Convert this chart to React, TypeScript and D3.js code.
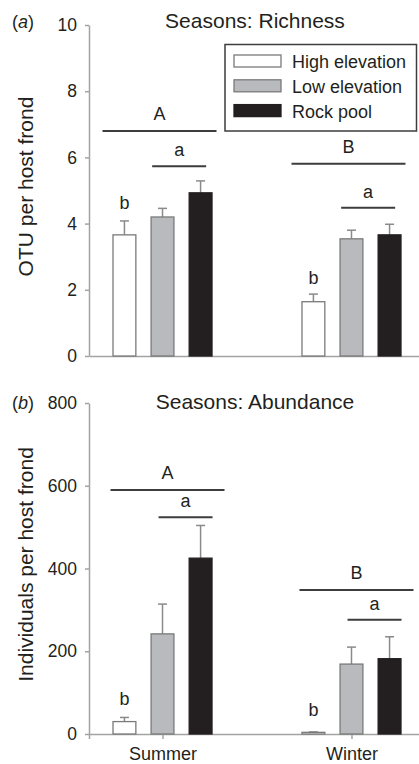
import * as d3 from "d3";
import { useRef, useEffect } from "react";

const seasons = ["Summer", "Winter"];
const habitats = ["High elevation", "Low elevation", "Rock pool"];
const habitatFills = ["#ffffff", "#b9babd", "#231f20"];

// means and standard errors, [season][habitat]
const richnessMean = [[3.66, 4.2, 4.93], [1.64, 3.54, 3.66]];
const richnessErr = [[0.42, 0.26, 0.36], [0.23, 0.26, 0.32]];
const richnessTicks = [0, 2, 4, 6, 8, 10];

const abundanceMean = [[30, 242, 425], [4, 169, 182]];
const abundanceErr = [[10, 72, 79], [1, 41, 53]];
const abundanceTicks = [0, 200, 400, 600, 800];

// significance letters: whole season, low+rock pair, high elevation alone
const richnessSeasonSig = [["A", 6.8], ["B", 5.81]];
const richnessPairSig = [["a", 5.73], ["a", 4.48]];
const richnessHighSig = [["b", 4.45], ["b", 2.18]];
const abundanceSeasonSig = [["A", 590], ["B", 348]];
const abundancePairSig = [["a", 524], ["a", 276]];
const abundanceHighSig = [["b", 70], ["b", 43]];

const font = "Liberation Sans, Arial, sans-serif";
const textColor = "#231f20";
const axisColor = "#a3a3a3";
const sigColor = "#3d3d3d";
const W = 419;
const H = 764;

const x = d3.scalePoint(seasons, [89, 425]).padding(0.389);
const xInner = d3.scaleBand(habitats, [-49.5, 49.5]).paddingInner(0.4);

function Panel({ top, bottom, titleY, ticks, mean, err, seasonSig, pairSig, highSig, title, tag, yLabel, showCategories, shift, legend }) {
  const gx = useRef(null);
  const gy = useRef(null);
  const y = d3.scaleLinear([0, ticks[ticks.length - 1]], [bottom, top]);
  const bw = xInner.bandwidth();

  useEffect(() => {
    const g = d3.select(gy.current);
    g.call(d3.axisLeft(y).tickValues(ticks).tickSize(4).tickSizeOuter(0).tickPadding(8));
    g.select(".domain").attr("stroke", axisColor).attr("stroke-width", 1.5);
    g.selectAll(".tick line").attr("stroke", axisColor).attr("stroke-width", 1.5);
    g.selectAll(".tick text").attr("fill", textColor).attr("font-size", 17.5).attr("font-family", font);

    const gb = d3.select(gx.current);
    const axis = d3.axisBottom(x).tickSizeOuter(0);
    if (showCategories) axis.tickSize(5).tickPadding(8);
    else axis.tickValues([]);
    gb.call(axis);
    gb.select(".domain").attr("stroke", axisColor).attr("stroke-width", 1.5);
    gb.selectAll(".tick line").attr("stroke", axisColor).attr("stroke-width", 1.5);
    gb.selectAll(".tick text").attr("fill", textColor).attr("font-size", 18).attr("font-family", font);
  }, []);

  const cx = (s, h) => x(s) + xInner(h) + bw / 2;

  return (
    <g>
      <text x={12} y={titleY} fontFamily={font} fontSize={18} fill={textColor}>
        (<tspan fontStyle="italic">{tag}</tspan>)
      </text>
      <text x={255} y={titleY} textAnchor="middle" fontFamily={font} fontSize={21} fill={textColor}>
        {title}
      </text>
      <text
        transform={`translate(33,${(top + bottom) / 2 - 4}) rotate(-90)`}
        textAnchor="middle"
        fontFamily={font}
        fontSize={21}
        fill={textColor}
      >
        {yLabel}
      </text>
      <g ref={gy} transform="translate(89,0)" />
      <g ref={gx} transform={`translate(0,${bottom})`} />

      {seasons.map((s, si) =>
        habitats.map((h, hi) => {
          const v = mean[si][hi];
          const e = err[si][hi];
          const c = cx(s, h);
          return (
            <g key={s + h}>
              <line x1={c} x2={c} y1={y(v)} y2={y(v + e)} stroke="#8a8a8a" strokeWidth={1.5} />
              <line x1={c - 4.5} x2={c + 4.5} y1={y(v + e)} y2={y(v + e)} stroke="#8a8a8a" strokeWidth={1.5} />
              <rect
                x={x(s) + xInner(h)}
                y={y(v)}
                width={bw}
                height={y(0) - y(v)}
                fill={habitatFills[hi]}
                stroke={hi === 2 ? "#231f20" : "#7a7a7a"}
                strokeWidth={1.3}
              />
            </g>
          );
        })
      )}

      {seasonSig.map(([label, level], si) => {
        const c = x(seasons[si]) + shift;
        return (
          <g key={"S" + si}>
            <line x1={c - 57} x2={c + 57} y1={y(level)} y2={y(level)} stroke={sigColor} strokeWidth={2} />
            <text x={c} y={y(level) - 11} textAnchor="middle" fontFamily={font} fontSize={18} fill={textColor}>
              {label}
            </text>
          </g>
        );
      })}
      {pairSig.map(([label, level], si) => {
        const s = seasons[si];
        const c = (cx(s, habitats[1]) + cx(s, habitats[2])) / 2 + shift * 0.8;
        return (
          <g key={"P" + si}>
            <line x1={c - 27} x2={c + 27} y1={y(level)} y2={y(level)} stroke={sigColor} strokeWidth={2} />
            <text x={c} y={y(level) - 10} textAnchor="middle" fontFamily={font} fontSize={18} fill={textColor}>
              {label}
            </text>
          </g>
        );
      })}
      {highSig.map(([label, level], si) => (
        <text
          key={"H" + si}
          x={cx(seasons[si], habitats[0])}
          y={y(level)}
          textAnchor="middle"
          fontFamily={font}
          fontSize={18}
          fill={textColor}
        >
          {label}
        </text>
      ))}

      {legend && (
        <g>
          <rect x={225} y={44.5} width={191.5} height={86.5} fill="#fff" stroke="#3d3d3d" strokeWidth={1.5} />
          {habitats.map((h, hi) => (
            <g key={h} transform={`translate(0,${61 + hi * 24.8})`}>
              <rect
                x={234}
                y={-6}
                width={47}
                height={12}
                fill={habitatFills[hi]}
                stroke={hi === 2 ? "#231f20" : "#7a7a7a"}
                strokeWidth={1.3}
              />
              <text x={292} y={7} fontFamily={font} fontSize={18} fill={textColor}>
                {h}
              </text>
            </g>
          ))}
        </g>
      )}
    </g>
  );
}

export default function App() {
  return (
    <div style={{ position: "absolute", left: 0, top: 0 }}>
      <svg width={W} height={H} style={{ display: "block", background: "#fff" }}>
        <Panel
          top={25}
          bottom={356}
          titleY={28}
          ticks={richnessTicks}
          mean={richnessMean}
          err={richnessErr}
          seasonSig={richnessSeasonSig}
          pairSig={richnessPairSig}
          highSig={richnessHighSig}
          title="Seasons: Richness"
          tag="a"
          yLabel="OTU per host frond"
          showCategories={false}
          shift={-3}
          legend={true}
        />
        <Panel
          top={403}
          bottom={734}
          titleY={409}
          ticks={abundanceTicks}
          mean={abundanceMean}
          err={abundanceErr}
          seasonSig={abundanceSeasonSig}
          pairSig={abundancePairSig}
          highSig={abundanceHighSig}
          title="Seasons: Abundance"
          tag="b"
          yLabel="Individuals per host frond"
          showCategories={true}
          shift={5}
          legend={false}
        />
      </svg>
    </div>
  );
}
